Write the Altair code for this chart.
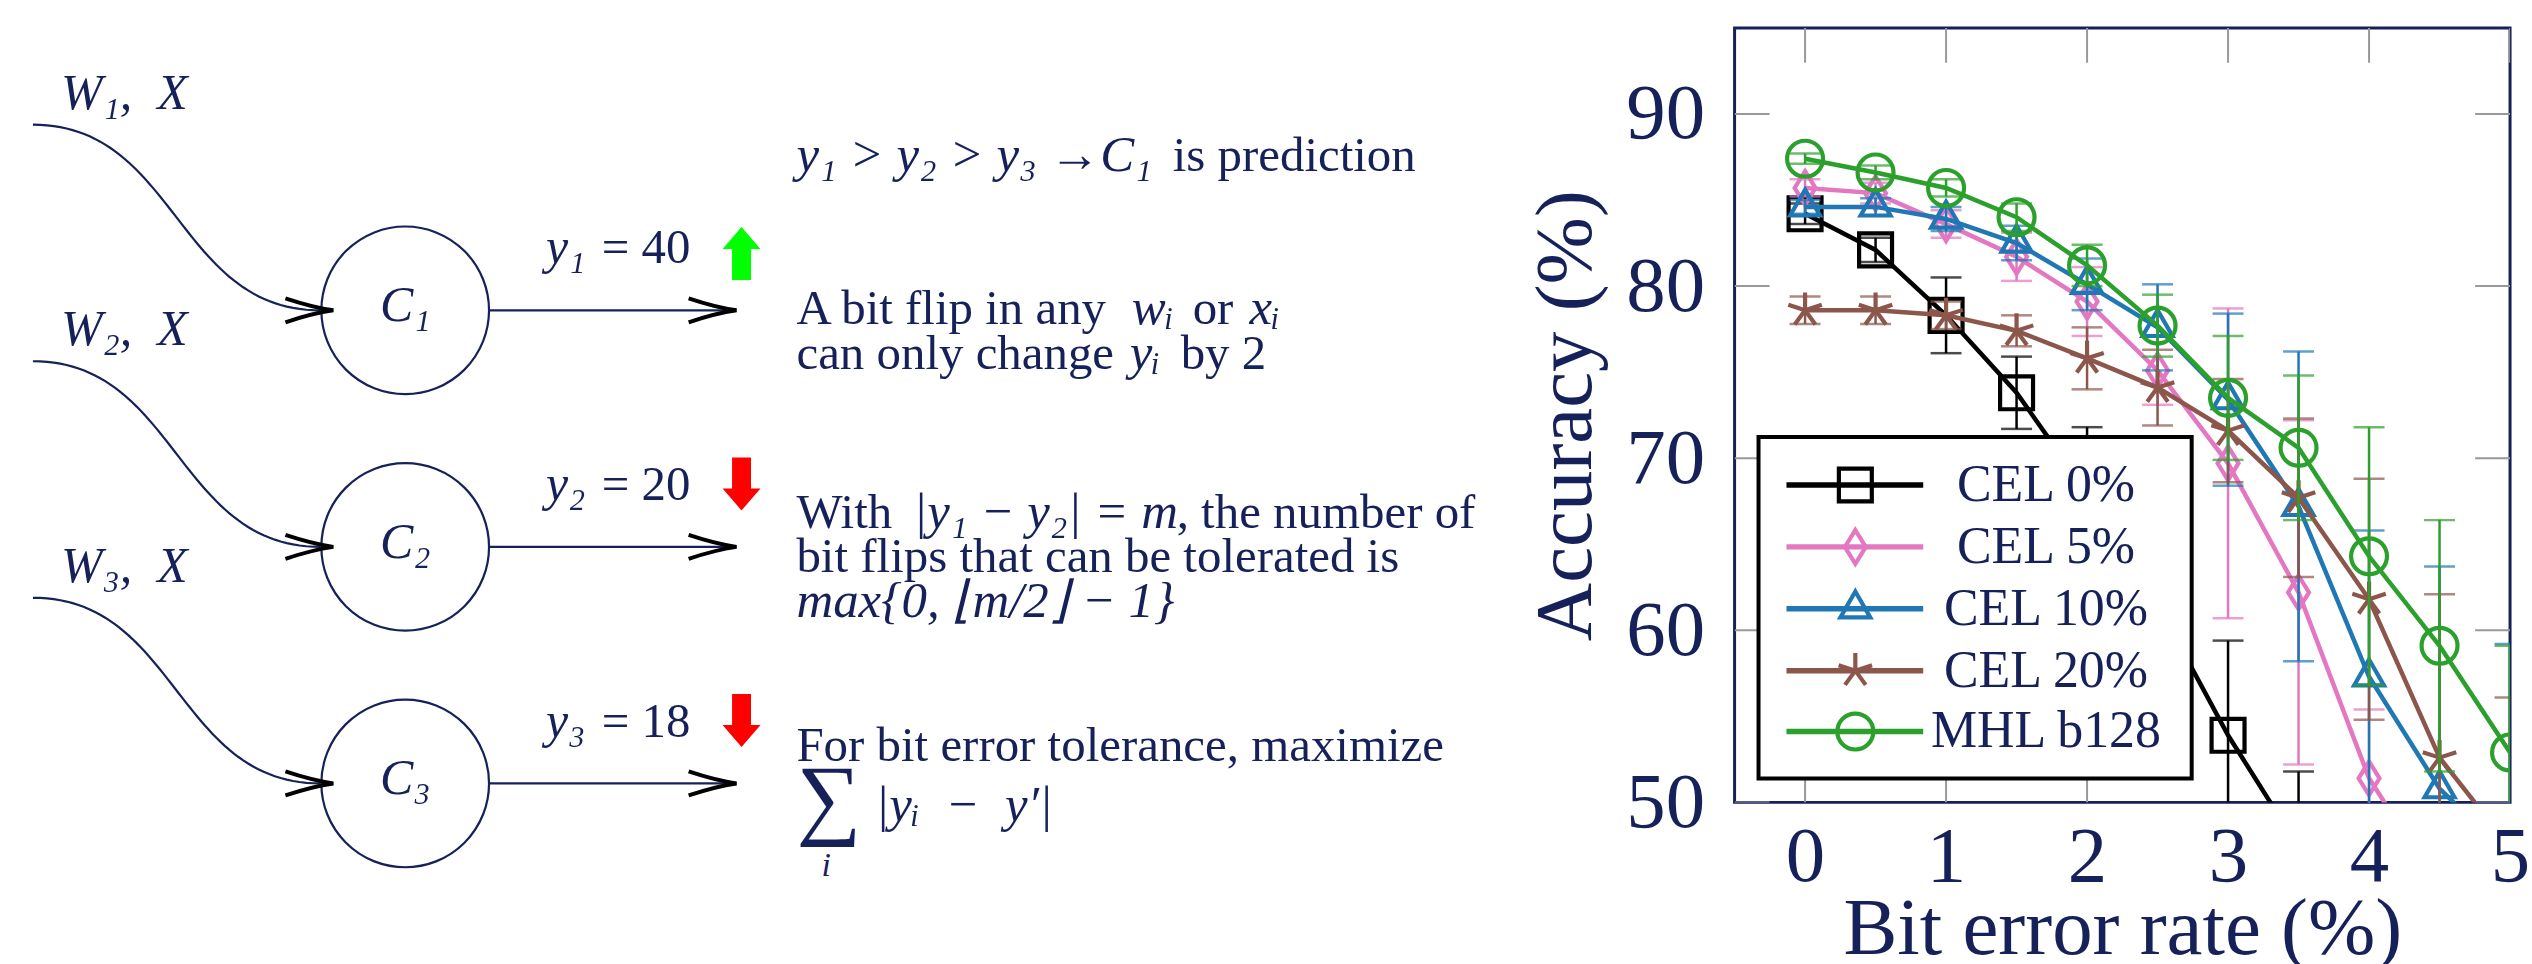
import altair as alt
import numpy as np
import pandas as pd

# ------------------------------------------------------------------
# Right panel: accuracy under random bit errors
# ------------------------------------------------------------------
series = ["CEL 0%", "CEL 5%", "CEL 10%", "CEL 20%", "MHL b128"]
bit_error_rate = [0.0, 0.5, 1.0, 1.5, 2.0, 2.5, 3.0, 3.5, 4.0, 4.5, 5.0]

acc_cel0 = [84.2, 82.1, 78.3, 73.8, 68.0, 61.5, 53.9, 47.4]
err_cel0 = [0.6, 0.7, 2.2, 2.1, 3.8, 4.5, 5.5, 4.4]
acc_cel5 = [85.7, 85.4, 83.6, 81.7, 79.1, 75.1, 69.7, 62.2, 51.4, 45.0]
err_cel5 = [0.5, 0.6, 0.8, 1.4, 2.0, 2.0, 9.0, 10.0, 4.0, 4.5]
acc_cel10 = [84.6, 84.6, 83.9, 82.5, 80.1, 77.6, 73.4, 67.2, 57.3, 50.8, 46.8]
err_cel10 = [0.4, 0.5, 0.7, 1.0, 1.5, 2.5, 5.0, 9.0, 8.5, 12.9, 12.4]
acc_cel20 = [78.6, 78.6, 78.3, 77.4, 75.8, 74.1, 71.6, 67.7, 61.8, 52.6, 47.4]
err_cel20 = [0.8, 0.8, 0.8, 0.9, 1.8, 2.2, 3.0, 4.6, 7.0, 9.5, 8.7]
acc_mhl = [87.4, 86.6, 85.7, 84.0, 81.2, 77.7, 73.5, 70.6, 64.3, 59.1, 52.9]
err_mhl = [0.3, 0.4, 0.5, 0.8, 1.2, 1.8, 3.6, 4.2, 7.5, 7.3, 6.2]

x_ticks = [0, 1, 2, 3, 4, 5]
y_ticks = [50, 60, 70, 80, 90]

# ------------------------------------------------------------------
# Left panel: three classifiers and their outputs
# ------------------------------------------------------------------
input_labels = ["W₁,\u2002X", "W₂,\u2002X", "W₃,\u2002X"]
class_labels = ["C₁", "C₂", "C₃"]
output_symbols = ["y₁", "y₂", "y₃"]
output_values = [40, 20, 18]

note_text = [
    "y₁ > y₂ > y₃ →C₁", "is prediction",
    "A bit flip in any", "wᵢ", "or", "xᵢ",
    "can only change", "yᵢ", "by 2",
    "With", "|y₁ − y₂| = m", ", the number of",
    "bit flips that can be tolerated is",
    "max{0, ⌊m/2⌋ − 1}",
    "For bit error tolerance, maximize",
    "∑", "|yᵢ\u2002−\u2002y′|", "i",
]

# ------------------------------------------------------------------
# Styling and layout
# ------------------------------------------------------------------
NAVY = "#16215a"
FONT = "Liberation Serif"
series_colors = ["#000000", "#e377c2", "#1f77b4", "#8c564b", "#2ca02c"]
SQUARE = "M-1,-1L1,-1L1,1L-1,1Z"
DIAMOND = "M0,-1L0.62,0L0,1L-0.62,0Z"
TRIANGLE = "M0,-1L0.866,0.5L-0.866,0.5Z"
ASTERISK = ("M0,0L0,-1M0,0L0.951,-0.309M0,0L0.588,0.809"
            "M0,0L-0.588,0.809M0,0L-0.951,-0.309")
series_shapes = [SQUARE, DIAMOND, TRIANGLE, ASTERISK, "circle"]
series_sizes = [1089, 1296, 1444, 1024, 1024]

PLOT_W, PLOT_H = 777, 776
X_MIN, X_MAX, Y_MIN, Y_MAX = -0.5, 5.0, 50.0, 95.0


def ux(px):
    """x data value at a pixel offset from the plot's left edge"""
    return X_MIN + px * (X_MAX - X_MIN) / PLOT_W


def uy(py):
    """y data value at a pixel offset from the plot's top edge"""
    return Y_MAX - py * (Y_MAX - Y_MIN) / PLOT_H


TICK_PX = 35

acc_table = [acc_cel0, acc_cel5, acc_cel10, acc_cel20, acc_mhl]
err_table = [err_cel0, err_cel5, err_cel10, err_cel20, err_mhl]
records = []
for name, accs, errs in zip(series, acc_table, err_table):
    for b, a, e in zip(bit_error_rate, accs, errs):
        records.append({"series": name, "ber": b, "acc": a, "lo": a - e, "hi": a + e})
df = pd.DataFrame(records)

xs = alt.Scale(domain=[X_MIN, X_MAX], nice=False, zero=False)
ys = alt.Scale(domain=[Y_MIN, Y_MAX], nice=False, zero=False)
x_axis = alt.Axis(
    values=x_ticks, title="Bit error rate (%)", grid=False, domain=False,
    ticks=False, tickSize=0, labelFont=FONT, labelFontSize=79, labelColor=NAVY,
    labelPadding=16, labelFlush=False, labelOverlap=False,
    titleFont=FONT, titleFontSize=81, titleFontWeight="normal", titleColor=NAVY,
    titleBaseline="top", titleY=87,
)
y_axis = alt.Axis(
    values=y_ticks, title="Accuracy (%)", grid=False, domain=False,
    ticks=False, tickSize=0, labelFont=FONT, labelFontSize=79, labelColor=NAVY,
    labelPadding=30, labelFlush=False, labelOverlap=False, labelBaseline="middle",
    titleFont=FONT, titleFontSize=81, titleFontWeight="normal", titleColor=NAVY,
    titleAngle=270, titleBaseline="bottom", titleX=-127,
)


def X(field):
    return alt.X(f"{field}:Q", scale=xs, axis=x_axis)


def Y(field):
    return alt.Y(f"{field}:Q", scale=ys, axis=y_axis)


color = alt.Color("series:N", scale=alt.Scale(domain=series, range=series_colors), legend=None)
shape = alt.Shape("series:N", scale=alt.Scale(domain=series, range=series_shapes), legend=None)
size = alt.Size("series:N", scale=alt.Scale(domain=series, range=series_sizes), legend=None)

# inward tick marks on all four sides of the frame
tx = TICK_PX * (X_MAX - X_MIN) / PLOT_W
ty = TICK_PX * (Y_MAX - Y_MIN) / PLOT_H
tick_rows = []
for v in x_ticks:
    tick_rows.append({"x0": v, "x1": v, "y0": Y_MIN, "y1": Y_MIN + ty})
    tick_rows.append({"x0": v, "x1": v, "y0": Y_MAX, "y1": Y_MAX - ty})
for v in y_ticks:
    tick_rows.append({"x0": X_MIN, "x1": X_MIN + tx, "y0": v, "y1": v})
    tick_rows.append({"x0": X_MAX, "x1": X_MAX - tx, "y0": v, "y1": v})
ticks_layer = alt.Chart(pd.DataFrame(tick_rows)).mark_rule(
    color="#999999", strokeWidth=2, clip=True
).encode(x=X("x0"), x2="x1", y=Y("y0"), y2="y1")

layers = [ticks_layer]
base = alt.Chart(df)
for name in series:
    sub = base.transform_filter(alt.datum.series == name)
    layers += [
        sub.mark_rule(strokeWidth=2.5, clip=True).encode(
            x=X("ber"), y=Y("lo"), y2="hi", color=color),
        sub.mark_tick(orient="horizontal", size=31, thickness=2.5, clip=True).encode(
            x=X("ber"), y=Y("lo"), color=color),
        sub.mark_tick(orient="horizontal", size=31, thickness=2.5, clip=True).encode(
            x=X("ber"), y=Y("hi"), color=color),
        sub.mark_line(strokeWidth=4.5, clip=True).encode(
            x=X("ber"), y=Y("acc"), color=color, order="ber:Q"),
        sub.mark_point(filled=False, strokeWidth=4.2, opacity=1, clip=True).encode(
            x=X("ber"), y=Y("acc"), color=color, shape=shape, size=size),
    ]

# legend box drawn over the curves
legend_rows_px = [458, 520, 582, 644, 705]
leg = pd.DataFrame({
    "series": series,
    "ly": [uy(p) for p in legend_rows_px],
    "lx0": ux(52), "lx1": ux(189), "lm": ux(121), "lt": ux(312),
})
box = alt.Chart(pd.DataFrame({
    "x0": [ux(24)], "x1": [ux(458)], "y0": [uy(410)], "y1": [uy(752)]
})).mark_rect(fill="white", stroke="black", strokeWidth=4).encode(
    x=X("x0"), x2="x1", y=Y("y0"), y2="y1")
leg_lines = alt.Chart(leg).mark_rule(strokeWidth=5.5).encode(
    x=X("lx0"), x2="lx1", y=Y("ly"), color=color)
leg_points = alt.Chart(leg).mark_point(filled=False, strokeWidth=4.2, opacity=1).encode(
    x=X("lm"), y=Y("ly"), color=color, shape=shape, size=size)
leg_text = alt.Chart(leg).mark_text(
    font=FONT, fontSize=52, color=NAVY, align="center", baseline="middle"
).encode(x=X("lt"), y=Y("ly"), text="series:N")
layers += [box, leg_lines, leg_points, leg_text]

plot = alt.layer(*layers).properties(
    width=PLOT_W, height=PLOT_H,
    view=alt.ViewBackground(stroke=NAVY, strokeWidth=3),
)

# ------------------------------------------------------------------
# Diagram (page pixel coordinates)
# ------------------------------------------------------------------
DIAG_W, DIAG_TOP, DIAG_H = 1500, 25, 870
DXS = alt.Scale(domain=[0, DIAG_W], nice=False, zero=False)
DYS = alt.Scale(domain=[DIAG_TOP, DIAG_TOP + DIAG_H], nice=False, zero=False, reverse=True)


def dX(f):
    return alt.X(f"{f}:Q", scale=DXS, axis=None)


def dY(f):
    return alt.Y(f"{f}:Q", scale=DYS, axis=None)


ROW0, ROW_GAP = 308, 237
row_y = [ROW0 + ROW_GAP * i for i in range(3)]
CURVE_X0, CURVE_X1, CURVE_RISE = 32, 320, 186
CIRCLE_X, CIRCLE_R = 405, 84
OUT_X0, OUT_TIP = CIRCLE_X + CIRCLE_R, 737
IN_TIP = 333
HEAD_LEN = 48
BLOCK_X, BLOCK_H = 742, 53

# S-shaped input wires (cubic Bezier, horizontal at both ends)
t = np.linspace(0, 1, 60)
k = 0.5 * (CURVE_X1 - CURVE_X0)
curve_rows = []
for i, cy in enumerate(row_y):
    p = np.array([[CURVE_X0, cy - CURVE_RISE], [CURVE_X0 + k, cy - CURVE_RISE],
                  [CURVE_X1 - k, cy], [CURVE_X1, cy]])
    b = ((1 - t) ** 3)[:, None] * p[0] + (3 * t * (1 - t) ** 2)[:, None] * p[1] \
        + (3 * t ** 2 * (1 - t))[:, None] * p[2] + (t ** 3)[:, None] * p[3]
    for j, (px, py) in enumerate(b):
        curve_rows.append({"row": i, "o": j, "px": float(px), "py": float(py)})
curves = alt.Chart(pd.DataFrame(curve_rows)).mark_line(color=NAVY, strokeWidth=2.2).encode(
    x=dX("px"), y=dY("py"), detail="row:N", order="o:Q")

nodes = pd.DataFrame({
    "cy": row_y, "cx": CIRCLE_X, "x0": OUT_X0, "x1": OUT_TIP - 4,
})
out_lines = alt.Chart(nodes).mark_rule(color=NAVY, strokeWidth=2.2).encode(
    x=dX("x0"), x2="x1", y=dY("cy"))
circles = alt.Chart(nodes).mark_point(
    shape="circle", size=(2 * CIRCLE_R) ** 2, color=NAVY, strokeWidth=2.2,
    filled=False, opacity=1
).encode(x=dX("cx"), y=dY("cy"))

ARROW_HEAD = "M-1,-0.5C-0.4,-0.3 0.5,-0.07 1,0C0.5,0.07 -0.4,0.3 -1,0.5"
heads = pd.DataFrame({
    "hx": [IN_TIP - HEAD_LEN / 2] * 3 + [OUT_TIP - HEAD_LEN / 2] * 3,
    "hy": row_y * 2,
})
arrow_heads = alt.Chart(heads).mark_point(
    shape=ARROW_HEAD, size=HEAD_LEN ** 2, color="black", strokeWidth=4,
    filled=False, opacity=1
).encode(x=dX("hx"), y=dY("hy"))

UP = "M0,-1L0.717,-0.17L0.358,-0.17L0.358,1L-0.358,1L-0.358,-0.17L-0.717,-0.17Z"
DOWN = "M0,1L0.717,0.17L0.358,0.17L0.358,-1L-0.358,-1L-0.358,0.17L-0.717,0.17Z"
trend = ["up" if v == max(output_values) else "down" for v in output_values]
blocks = pd.DataFrame({
    "bx": BLOCK_X,
    "by": [cy + (-57 if tr == "up" else -63) for cy, tr in zip(row_y, trend)],
    "trend": trend,
})
block_arrows = alt.Chart(blocks).mark_point(
    filled=True, size=BLOCK_H ** 2, strokeWidth=0, opacity=1
).encode(
    x=dX("bx"), y=dY("by"),
    shape=alt.Shape("trend:N", scale=alt.Scale(domain=["up", "down"], range=[UP, DOWN]), legend=None),
    color=alt.Color("trend:N", scale=alt.Scale(domain=["up", "down"], range=["#00ff00", "#ff0000"]), legend=None),
)

# text items: (text, x, baseline y, italic, font size, align)
items = []
for cy, w, c, s, v in zip(row_y, input_labels, class_labels, output_symbols, output_values):
    items.append((w, 60, cy - 202, True, 50, "left"))
    items.append((c, CIRCLE_X, cy + 11, True, 50, "center"))
    items.append((s, 546, cy - 47, True, 50, "left"))
    items.append((f"= {v}", 602, cy - 47, False, 49, "left"))

note_layout = [
    (797, 168, True, 51), (1174, 168, False, 49),
    (797, 322, False, 49), (1133, 322, True, 51), (1194, 322, False, 49), (1251, 322, True, 51),
    (797, 367, False, 49), (1131, 367, True, 51), (1182, 367, False, 49),
    (797, 526, False, 49), (914, 526, True, 51), (1178, 526, False, 49),
    (797, 570, False, 49),
    (797, 615, True, 51),
    (797, 760, False, 49),
    (797, 827, False, 91), (876, 820, True, 51), (822, 875, True, 34),
]
for txt, (x, y, it, fs) in zip(note_text, note_layout):
    items.append((txt, x, y, it, fs, "left"))

# one text layer per (style, size, alignment) group
groups = {}
for txt, x, y, it, fs, al in items:
    groups.setdefault((it, fs, al), []).append({"label": txt, "tx": float(x), "ty": float(y)})
text_layers = []
for (it, fs, al), rows in groups.items():
    text_layers.append(
        alt.Chart(pd.DataFrame(rows)).mark_text(
            font=FONT, fontSize=fs, fontStyle="italic" if it else "normal",
            color=NAVY, align=al, baseline="alphabetic"
        ).encode(x=dX("tx"), y=dY("ty"), text="label:N")
    )

diagram = alt.layer(
    curves, out_lines, circles, arrow_heads, block_arrows, *text_layers
).properties(
    width=DIAG_W, height=DIAG_H,
    view=alt.ViewBackground(stroke="transparent"),
)

chart = alt.hconcat(
    diagram, plot, spacing=1737 - DIAG_W, bounds="flush",
    padding={"left": 0, "top": DIAG_TOP, "right": 0, "bottom": 0},
).resolve_scale(
    x="independent", y="independent", color="independent",
    shape="independent", size="independent",
)

chart.save("out.html", embed_options={"renderer": "svg", "actions": False})
